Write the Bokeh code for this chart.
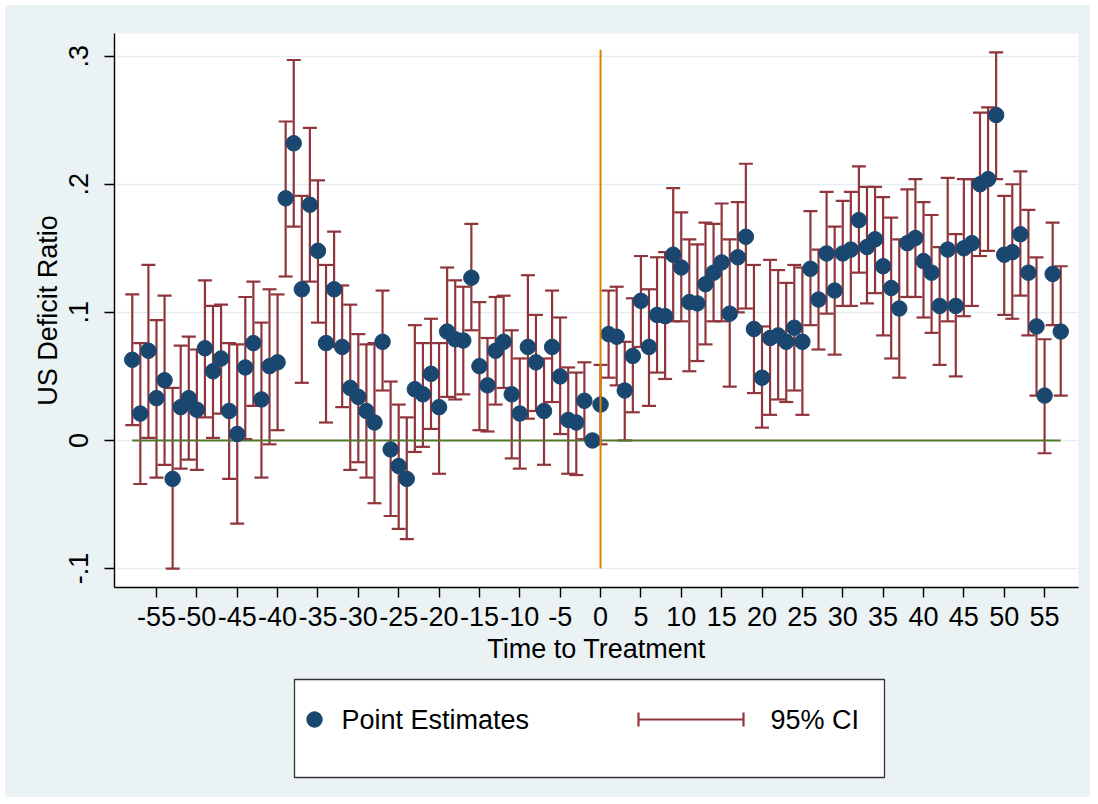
import math
from bokeh.plotting import figure
from bokeh.models import ColumnDataSource, FixedTicker, Range1d
from bokeh.layouts import column
from bokeh.core.properties import value
from bokeh.embed import file_html
from bokeh.resources import INLINE

# ---------------- data ----------------
t = list(range(-58, 58))

estimate = [
    0.063, 0.021, 0.070, 0.033, 0.047, -0.030, 0.026, 0.033, 0.024, 0.072,   # -58..-49
    0.054, 0.064, 0.023, 0.005, 0.057, 0.076, 0.032, 0.058, 0.061, 0.189,    # -48..-39
    0.232, 0.118, 0.184, 0.148, 0.076, 0.118, 0.073, 0.041, 0.034, 0.023,    # -38..-29
    0.014, 0.077, -0.007, -0.020, -0.030, 0.040, 0.036, 0.052, 0.026, 0.085, # -28..-19
    0.079, 0.078, 0.127, 0.058, 0.043, 0.070, 0.077, 0.036, 0.021, 0.073,    # -18..-9
    0.061, 0.023, 0.073, 0.050, 0.016, 0.014, 0.031, 0.000, 0.028, 0.083,    # -8..1
    0.081, 0.039, 0.066, 0.109, 0.073, 0.098, 0.097, 0.145, 0.135, 0.108,    # 2..11
    0.107, 0.122, 0.131, 0.139, 0.099, 0.143, 0.159, 0.087, 0.049, 0.080,    # 12..21
    0.082, 0.077, 0.088, 0.077, 0.134, 0.110, 0.146, 0.117, 0.146, 0.149,    # 22..31
    0.172, 0.151, 0.157, 0.136, 0.119, 0.103, 0.154, 0.158, 0.140, 0.131,    # 32..41
    0.105, 0.149, 0.105, 0.150, 0.154, 0.200, 0.204, 0.254, 0.145, 0.147,    # 42..51
    0.161, 0.131, 0.089, 0.035, 0.130, 0.085,                                # 52..57
]

ci_low = [
    0.012, -0.034, 0.002, -0.029, -0.019, -0.100, -0.022, -0.015, -0.023, 0.018,
    0.002, 0.021, -0.030, -0.065, 0.001, 0.027, -0.029, -0.003, 0.008, 0.128,
    0.167, 0.045, 0.124, 0.092, 0.014, 0.073, 0.026, -0.023, -0.017, -0.029,
    -0.049, 0.039, -0.059, -0.069, -0.077, -0.009, -0.005, 0.009, -0.026, 0.034,
    0.032, 0.036, 0.086, 0.008, 0.007, 0.028, 0.041, -0.014, -0.022, 0.017,
    0.023, -0.019, 0.030, 0.005, -0.026, -0.027, 0.001, float("nan"), -0.003, 0.049,
    0.043, 0.000, 0.022, 0.073, 0.027, 0.053, 0.048, 0.093, 0.093, 0.054,
    0.062, 0.075, 0.093, 0.093, 0.042, 0.100, 0.103, 0.037, 0.010, 0.020,
    0.032, 0.030, 0.039, 0.020, 0.090, 0.071, 0.099, 0.067, 0.105, 0.105,
    0.131, 0.107, 0.115, 0.082, 0.064, 0.049, 0.112, 0.112, 0.096, 0.084,
    0.059, 0.093, 0.050, 0.097, 0.105, 0.144, 0.148, 0.204, 0.098, 0.095,
    0.113, 0.082, 0.035, -0.010, 0.090, 0.035,
]

ci_high = [
    0.114, 0.076, 0.137, 0.094, 0.113, 0.041, 0.074, 0.081, 0.071, 0.125,
    0.105, 0.106, 0.076, 0.075, 0.112, 0.124, 0.092, 0.118, 0.114, 0.249,
    0.297, 0.191, 0.244, 0.203, 0.137, 0.163, 0.121, 0.106, 0.083, 0.075,
    0.076, 0.117, 0.046, 0.028, 0.018, 0.090, 0.076, 0.095, 0.076, 0.135,
    0.125, 0.120, 0.169, 0.108, 0.080, 0.112, 0.113, 0.086, 0.064, 0.129,
    0.098, 0.064, 0.117, 0.096, 0.057, 0.053, 0.061, float("nan"), 0.059, 0.117,
    0.120, 0.077, 0.111, 0.144, 0.118, 0.143, 0.147, 0.197, 0.178, 0.157,
    0.153, 0.170, 0.169, 0.185, 0.157, 0.186, 0.216, 0.137, 0.089, 0.141,
    0.133, 0.123, 0.137, 0.135, 0.179, 0.149, 0.194, 0.167, 0.187, 0.194,
    0.214, 0.198, 0.198, 0.190, 0.174, 0.157, 0.196, 0.204, 0.186, 0.176,
    0.151, 0.205, 0.161, 0.204, 0.204, 0.256, 0.260, 0.303, 0.191, 0.200,
    0.210, 0.180, 0.143, 0.079, 0.170, 0.136,
]

x_ticks = [-55, -50, -45, -40, -35, -30, -25, -20, -15, -10, -5, 0,
           5, 10, 15, 20, 25, 30, 35, 40, 45, 50, 55]
x_tick_labels = ["-55", "-50", "-45", "-40", "-35", "-30", "-25", "-20", "-15", "-10", "-5", "0",
                 "5", "10", "15", "20", "25", "30", "35", "40", "45", "50", "55"]
y_ticks = [-0.1, 0.0, 0.1, 0.2, 0.3]
y_tick_labels = ["-.1", "0", ".1", ".2", ".3"]

zero_line_y = [0.0, 0.0]
treat_line_x = [0, 0]
treat_line_y = [-0.1, 0.305]

legend_labels = ["Point Estimates", "95% CI"]
x_title = "Time to Treatment"
y_title = "US Deficit Ratio"

# ---------------- style ----------------
FONT = "Liberation Sans"
BG = "#eaf2f3"
NAVY = "#1a476f"
MAROON = "#90353b"
GREEN = "#55752f"
ORANGE = "#e37e00"
GRID = "#e4eef0"
FS = "27px"

FW, FH = 964, 554
BL, BR = 109, 12

src = ColumnDataSource(dict(t=t, est=estimate, lo=ci_low, hi=ci_high))

p = figure(frame_width=FW, frame_height=FH,
           x_range=Range1d(-60.2, 59.2), y_range=Range1d(-0.1148, 0.3177),
           min_border_left=BL, min_border_right=BR, min_border_top=28, min_border_bottom=85,
           background_fill_color="white", border_fill_color=BG,
           outline_line_color=None, output_backend="svg", toolbar_location=None)

# grid
p.xgrid.visible = False
p.ygrid.grid_line_color = GRID
p.ygrid.grid_line_width = 1.6

# confidence intervals (rcap)
p.segment(x0="t", y0="lo", x1="t", y1="hi", source=src, line_color=MAROON, line_width=2.2)
p.scatter(x="t", y="hi", source=src, marker="dash", size=14, line_color=MAROON, line_width=2.2)
p.scatter(x="t", y="lo", source=src, marker="dash", size=14, line_color=MAROON, line_width=2.2)

# zero line
p.line(x=[t[0], t[-1]], y=zero_line_y, line_color=GREEN, line_width=2)

# point estimates
p.scatter(x="t", y="est", source=src, marker="circle", size=15.5,
          fill_color=NAVY, line_color=NAVY)

# treatment line
p.line(x=treat_line_x, y=treat_line_y, line_color=ORANGE, line_width=2)

# axes
p.xaxis.ticker = FixedTicker(ticks=x_ticks)
p.xaxis.major_label_overrides = dict(zip(x_ticks, x_tick_labels))
p.yaxis.ticker = FixedTicker(ticks=y_ticks)
p.yaxis.major_label_overrides = dict(zip(y_ticks, y_tick_labels))
p.ygrid.ticker = FixedTicker(ticks=y_ticks)
p.yaxis.major_label_orientation = "vertical"

for ax in (p.xaxis[0], p.yaxis[0]):
    ax.axis_line_color = "black"
    ax.axis_line_width = 1.4
    ax.major_tick_line_color = "black"
    ax.major_tick_line_width = 1.4
    ax.major_tick_out = 10
    ax.major_tick_in = 0
    ax.minor_tick_line_color = None
    ax.major_label_text_font = FONT
    ax.major_label_text_font_size = FS
    ax.major_label_text_color = "black"
    ax.axis_label_text_font = FONT
    ax.axis_label_text_font_size = FS
    ax.axis_label_text_font_style = "normal"
    ax.axis_label_text_color = "black"

p.xaxis.axis_label = x_title
p.yaxis.axis_label = y_title
p.xaxis.major_label_standoff = 9
p.xaxis.axis_label_standoff = 5
p.yaxis.major_label_standoff = 16
p.yaxis.axis_label_standoff = 4

# ---------------- legend panel ----------------
LH = 125
q = figure(frame_width=FW, frame_height=LH,
           x_range=Range1d(0, FW), y_range=Range1d(0, LH),
           min_border=0, min_border_left=BL, min_border_right=BR,
           min_border_top=0, min_border_bottom=0,
           x_axis_location=None, y_axis_location=None,
           background_fill_color=BG, border_fill_color=BG,
           outline_line_color=None,
           output_backend="svg", toolbar_location=None)
q.grid.visible = False

# legend box (pixel units inside the panel)
q.quad(left=[180], right=[770], bottom=[20], top=[118],
       fill_color="white", line_color="#333333", line_width=1.3)
row_y = 78
q.scatter(x=[200], y=[row_y], marker="circle", size=15.5, fill_color=NAVY, line_color=NAVY)
q.text(x=[227], y=[row_y], text=[legend_labels[0]], text_font=value(FONT),
       text_font_size=FS, text_baseline="middle", text_align="left", text_color="black")
q.segment(x0=[524], y0=[row_y], x1=[629], y1=[row_y], line_color=MAROON, line_width=2.2)
q.segment(x0=[524, 629], y0=[row_y - 7, row_y - 7], x1=[524, 629], y1=[row_y + 7, row_y + 7],
          line_color=MAROON, line_width=2.2)
q.text(x=[656], y=[row_y], text=[legend_labels[1]], text_font=value(FONT),
       text_font_size=FS, text_baseline="middle", text_align="left", text_color="black")

layout = column(p, q, spacing=0, margin=(5, 0, 0, 5),
                styles={"background-color": BG})

with open("out.html", "w") as f:
    f.write(file_html(layout, INLINE))
